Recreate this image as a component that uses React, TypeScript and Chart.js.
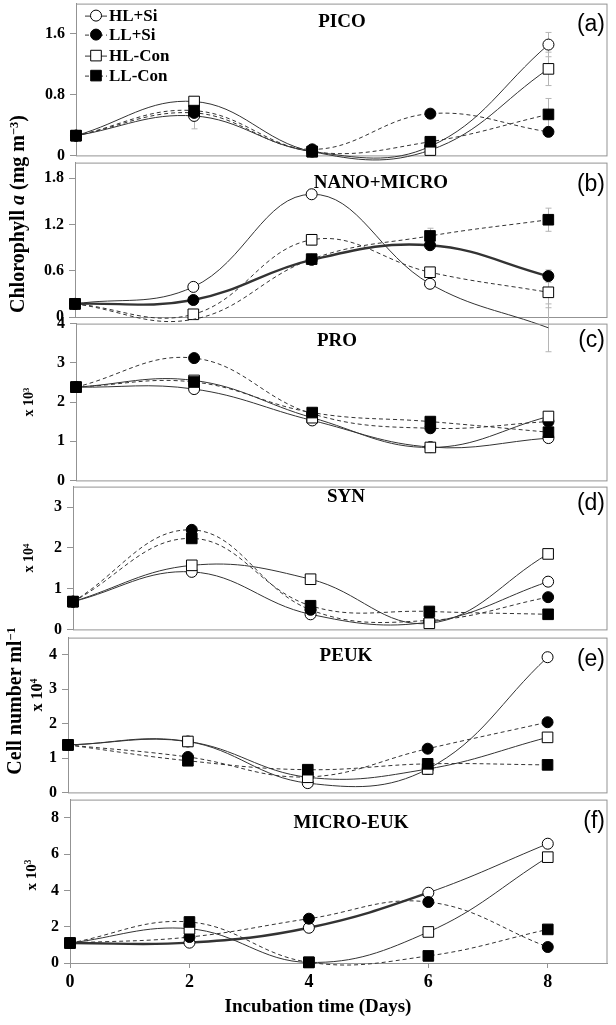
import React, { useEffect, useRef } from 'react';
import { Chart, registerables } from 'chart.js';

Chart.register(...registerables);

// ---------------- data ----------------
const DAYS = [0, 2, 4, 6, 8];
const SERIES_NAMES = ['HL+Si', 'LL+Si', 'HL-Con', 'LL-Con'];
const X_TICKS = [0, 2, 4, 6, 8];

// (a) PICO chlorophyll a (mg m-3)
const PICO_HL_SI = [0.26, 0.52, 0.05, 0.12, 1.46];
const PICO_LL_SI = [0.26, 0.56, 0.08, 0.55, 0.31];
const PICO_HL_CON = [0.26, 0.71, 0.05, 0.07, 1.14];
const PICO_LL_CON = [0.26, 0.59, 0.05, 0.18, 0.54];
const PICO_ERR_HL_SI = [0, 0.17, 0, 0, 0.16];
const PICO_ERR_LL_SI = [0, 0, 0, 0, 0.06];
const PICO_ERR_HL_CON = [0, 0, 0, 0, 0.22];
const PICO_ERR_LL_CON = [0, 0, 0, 0, 0.21];

// (b) NANO+MICRO chlorophyll a (mg m-3)
const NANO_HL_SI = [0.17, 0.39, 1.59, 0.43, -0.14];
const NANO_LL_SI = [0.17, 0.22, 0.74, 0.93, 0.53];
const NANO_HL_CON = [0.17, 0.035, 1.0, 0.58, 0.32];
const NANO_LL_CON = [0.17, -0.03, 0.75, 1.05, 1.26];
const NANO_ERR_HL_SI = [0, 0, 0.05, 0, 0.31];
const NANO_ERR_LL_SI = [0, 0, 0, 0, 0.08];
const NANO_ERR_HL_CON = [0, 0, 0.07, 0, 0.2];
const NANO_ERR_LL_CON = [0, 0, 0, 0.1, 0.15];

// (c) PRO cells ml-1 (x 10^3)
const PRO_HL_SI = [2.38, 2.33, 1.53, 0.85, 1.08];
const PRO_LL_SI = [2.38, 3.12, 1.7, 1.33, 1.5];
const PRO_HL_CON = [2.38, 2.55, 1.6, 0.84, 1.63];
const PRO_LL_CON = [2.38, 2.51, 1.73, 1.5, 1.23];

// (d) SYN cells ml-1 (x 10^4)
const SYN_HL_SI = [0.68, 1.41, 0.37, 0.18, 1.17];
const SYN_LL_SI = [0.68, 2.44, 0.48, 0.22, 0.79];
const SYN_HL_CON = [0.68, 1.57, 1.23, 0.15, 1.85];
const SYN_LL_CON = [0.68, 2.23, 0.58, 0.44, 0.37];

// (e) PEUK cells ml-1 (x 10^4)
const PEUK_HL_SI = [1.38, 1.48, 0.27, 0.68, 3.93];
const PEUK_LL_SI = [1.38, 1.03, 0.45, 1.27, 2.04];
const PEUK_HL_CON = [1.38, 1.48, 0.44, 0.68, 1.6];
const PEUK_LL_CON = [1.38, 0.92, 0.66, 0.83, 0.8];

// (f) MICRO-EUK cells ml-1 (x 10^3)
const MEUK_HL_SI = [1.1, 1.12, 1.94, 3.87, 6.57];
const MEUK_LL_SI = [1.1, 1.43, 2.44, 3.36, 0.88];
const MEUK_HL_CON = [1.1, 1.89, 0.03, 1.71, 5.83];
const MEUK_LL_CON = [1.1, 2.26, 0.04, 0.39, 1.85];

const NO_ERR = [0, 0, 0, 0, 0];

// ---------------- styles ----------------
const SERIF = '"Liberation Serif", "Times New Roman", serif';
const SANS = '"Liberation Sans", Arial, sans-serif';
const LINE_COLOR = '#333';
const BOX_COLOR = '#939393';
const ERR_COLOR = '#b5b5b5';
const W = 616;
const PAD_T = 14;

const MARKERS = [
  { style: 'circle', r: 5.5, fill: '#fff' },
  { style: 'circle', r: 5.5, fill: '#000' },
  { style: 'rect', r: 7.5, fill: '#fff' },
  { style: 'rect', r: 7.5, fill: '#000' },
];
const DRAW_ORDER = [4, 3, 2, 1];

type LineStyle = { dash: boolean; width: number; thickUntil?: number; thickWidth?: number };
const S: LineStyle = { dash: false, width: 1 };
const D: LineStyle = { dash: true, width: 1 };

type PanelDef = {
  key: string;
  title: string;
  tag: string;
  values: number[][];
  errors: number[][];
  styles: LineStyle[];
  yMax: number;
  yStep: number;
  left: number;
  top: number;
  right: number;
  bottom: number;
  padB: number;
  titleX: number;
  titleY: number;
  tagY: number;
  legend?: boolean;
  xAxis?: boolean;
};

const PANELS: PanelDef[] = [
  {
    key: 'a', title: 'PICO', tag: '(a)',
    values: [PICO_HL_SI, PICO_LL_SI, PICO_HL_CON, PICO_LL_CON],
    errors: [PICO_ERR_HL_SI, PICO_ERR_LL_SI, PICO_ERR_HL_CON, PICO_ERR_LL_CON],
    styles: [S, D, S, D], yMax: 2.0, yStep: 0.8,
    left: 76, top: 3, right: 609, bottom: 156, padB: 14,
    titleX: 342, titleY: 20, tagY: 23, legend: true,
  },
  {
    key: 'b', title: 'NANO+MICRO', tag: '(b)',
    values: [NANO_HL_SI, NANO_LL_SI, NANO_HL_CON, NANO_LL_CON],
    errors: [NANO_ERR_HL_SI, NANO_ERR_LL_SI, NANO_ERR_HL_CON, NANO_ERR_LL_CON],
    styles: [S, { dash: false, width: 2.4 }, D, D], yMax: 2.0, yStep: 0.6,
    left: 75, top: 162, right: 611, bottom: 317, padB: 45,
    titleX: 381, titleY: 181, tagY: 183,
  },
  {
    key: 'c', title: 'PRO', tag: '(c)',
    values: [PRO_HL_SI, PRO_LL_SI, PRO_HL_CON, PRO_LL_CON],
    errors: [NO_ERR, NO_ERR, NO_ERR, NO_ERR],
    styles: [S, D, S, D], yMax: 4, yStep: 1,
    left: 76, top: 323, right: 611, bottom: 481, padB: 14,
    titleX: 337, titleY: 339, tagY: 339,
  },
  {
    key: 'd', title: 'SYN', tag: '(d)',
    values: [SYN_HL_SI, SYN_LL_SI, SYN_HL_CON, SYN_LL_CON],
    errors: [NO_ERR, NO_ERR, NO_ERR, NO_ERR],
    styles: [S, D, S, D], yMax: 3.5, yStep: 1,
    left: 73, top: 486, right: 611, bottom: 630, padB: 14,
    titleX: 346, titleY: 495, tagY: 502,
  },
  {
    key: 'e', title: 'PEUK', tag: '(e)',
    values: [PEUK_HL_SI, PEUK_LL_SI, PEUK_HL_CON, PEUK_LL_CON],
    errors: [NO_ERR, NO_ERR, NO_ERR, NO_ERR],
    styles: [S, D, S, D], yMax: 4.5, yStep: 1,
    left: 68, top: 637, right: 611, bottom: 793, padB: 14,
    titleX: 346, titleY: 654, tagY: 658,
  },
  {
    key: 'f', title: 'MICRO-EUK', tag: '(f)',
    values: [MEUK_HL_SI, MEUK_LL_SI, MEUK_HL_CON, MEUK_LL_CON],
    errors: [NO_ERR, NO_ERR, NO_ERR, NO_ERR],
    styles: [{ dash: false, width: 1, thickUntil: 3, thickWidth: 2.4 }, D, S, D], yMax: 9, yStep: 2,
    left: 70, top: 799, right: 612, bottom: 963, padB: 4,
    titleX: 351, titleY: 821, tagY: 820, xAxis: true,
  },
];

const X_AXIS_H = 36;

function drawMarker(ctx: CanvasRenderingContext2D, i: number, x: number, y: number) {
  const m = MARKERS[i];
  ctx.save();
  ctx.fillStyle = m.fill;
  ctx.strokeStyle = '#000';
  ctx.lineWidth = 1;
  ctx.setLineDash([]);
  ctx.beginPath();
  if (m.style === 'circle') {
    ctx.arc(x, y, m.r, 0, Math.PI * 2);
  } else {
    const h = m.r * Math.SQRT1_2;
    ctx.rect(x - h, y - h, 2 * h, 2 * h);
  }
  ctx.fill();
  ctx.stroke();
  ctx.restore();
}

function PanelChart({ p }: { p: PanelDef }) {
  const ref = useRef<HTMLCanvasElement>(null);
  const extra = p.xAxis ? X_AXIS_H : 0;
  const h = PAD_T + (p.bottom - p.top) + extra + p.padB;
  const canvasTop = p.top - PAD_T;

  useEffect(() => {
    if (!ref.current) return;

    const boxPlugin = {
      id: 'box' + p.key,
      beforeDatasetsDraw(chart: any) {
        const { ctx, chartArea: a } = chart;
        ctx.save();
        ctx.strokeStyle = BOX_COLOR;
        ctx.lineWidth = 1;
        ctx.strokeRect(a.left + 0.5, a.top + 0.5, a.right - a.left - 1, a.bottom - a.top);
        ctx.restore();
      },
    };

    const errPlugin = {
      id: 'err' + p.key,
      beforeDatasetsDraw(chart: any) {
        const { ctx } = chart;
        const xs = chart.scales.x;
        const ys = chart.scales.y;
        ctx.save();
        ctx.strokeStyle = ERR_COLOR;
        ctx.lineWidth = 1;
        p.errors.forEach((arr, i) => {
          arr.forEach((e, j) => {
            if (!e) return;
            const v = p.values[i][j];
            const x = Math.round(xs.getPixelForValue(DAYS[j])) + 0.5;
            const y1 = ys.getPixelForValue(v + e);
            const y2 = ys.getPixelForValue(v - e);
            ctx.beginPath();
            ctx.moveTo(x, y1);
            ctx.lineTo(x, y2);
            ctx.moveTo(x - 3, y1);
            ctx.lineTo(x + 3, y1);
            ctx.moveTo(x - 3, y2);
            ctx.lineTo(x + 3, y2);
            ctx.stroke();
          });
        });
        ctx.restore();
      },
    };

    const legendPlugin = {
      id: 'leg' + p.key,
      afterDatasetsDraw(chart: any) {
        if (!p.legend) return;
        const { ctx, chartArea: a } = chart;
        const rows = [12, 31, 52, 72];
        SERIES_NAMES.forEach((name, i) => {
          const y = a.top + rows[i];
          const x0 = a.left + 9;
          const x1 = a.left + 31;
          ctx.save();
          ctx.strokeStyle = LINE_COLOR;
          ctx.lineWidth = 1;
          ctx.setLineDash(p.styles[i].dash ? [4, 3] : []);
          ctx.beginPath();
          ctx.moveTo(x0, y + 0.5);
          ctx.lineTo(x1, y + 0.5);
          ctx.stroke();
          ctx.restore();
          drawMarker(ctx, i, (x0 + x1) / 2, y);
          ctx.save();
          ctx.fillStyle = '#000';
          ctx.font = `bold 17px ${SERIF}`;
          ctx.textAlign = 'left';
          ctx.textBaseline = 'middle';
          ctx.fillText(name, x1 + 2, y + 1);
          ctx.restore();
        });
      },
    };

    const datasets = SERIES_NAMES.map((name, i) => {
      const st = p.styles[i];
      const m = MARKERS[i];
      const ds: any = {
        label: name,
        data: DAYS.map((d, j) => ({ x: d, y: p.values[i][j] })),
        borderColor: LINE_COLOR,
        borderWidth: st.width,
        borderDash: st.dash ? [4, 3] : [],
        pointStyle: m.style,
        pointRadius: (c: any) => (c.raw && c.raw.y < 0 ? 0 : m.r),
        pointHoverRadius: (c: any) => (c.raw && c.raw.y < 0 ? 0 : m.r),
        pointBackgroundColor: m.fill,
        pointBorderColor: '#000',
        pointBorderWidth: 1,
        clip: false,
        order: DRAW_ORDER[i],
        tension: 0.4,
        fill: false,
      };
      if (st.thickUntil != null) {
        ds.segment = {
          borderWidth: (c: any) => (c.p1DataIndex <= (st.thickUntil as number) ? st.thickWidth : st.width),
        };
      }
      return ds;
    });

    const chart = new Chart(ref.current, {
      type: 'line',
      data: { datasets },
      plugins: [boxPlugin, errPlugin, legendPlugin],
      options: {
        animation: false,
        responsive: false,
        maintainAspectRatio: false,
        events: [],
        layout: { padding: { top: PAD_T, bottom: p.padB, left: 0, right: W - p.right } },
        plugins: { legend: { display: false }, tooltip: { enabled: false }, title: { display: false } },
        elements: { line: { capBezierPoints: false } },
        scales: {
          x: {
            type: 'linear',
            min: 0,
            max: 9,
            display: !!p.xAxis,
            afterBuildTicks: (s: any) => {
              s.ticks = X_TICKS.map((v) => ({ value: v }));
            },
            ticks: {
              stepSize: 2,
              includeBounds: false,
              color: '#000',
              padding: 4,
              font: { family: SERIF, weight: 'bold', size: 18 },
            },
            grid: { drawOnChartArea: false, color: BOX_COLOR, tickLength: 5 },
            border: { color: BOX_COLOR },
            afterFit: (s: any) => {
              if (p.xAxis) s.height = X_AXIS_H;
            },
          },
          y: {
            type: 'linear',
            min: 0,
            max: p.yMax,
            ticks: {
              stepSize: p.yStep,
              includeBounds: false,
              color: '#000',
              padding: 5,
              font: { family: SERIF, weight: 'bold', size: 16 },
            },
            grid: { drawOnChartArea: false, color: BOX_COLOR, tickLength: 6 },
            border: { color: BOX_COLOR },
            afterFit: (s: any) => {
              s.width = p.left;
            },
          },
        },
      } as any,
    });
    return () => chart.destroy();
  }, []);

  return (
    <canvas
      ref={ref}
      width={W}
      height={h}
      style={{ position: 'absolute', left: 0, top: canvasTop, width: W, height: h }}
    />
  );
}

const sup: React.CSSProperties = { fontSize: '0.62em', position: 'relative', top: '-0.5em' };

function Txt({ x, y, size, children, rotate, family, weight, align }: any) {
  const tx = align === 'right' ? '-100%' : '-50%';
  return (
    <div
      style={{
        position: 'absolute',
        left: x,
        top: y,
        transform: `translate(${tx}, -50%)${rotate ? ' rotate(-90deg)' : ''}`,
        transformOrigin: rotate ? '50% 50%' : undefined,
        fontFamily: family || SERIF,
        fontWeight: weight || 'bold',
        fontSize: size,
        lineHeight: 1,
        whiteSpace: 'nowrap',
        color: '#000',
      }}
    >
      {children}
    </div>
  );
}

export default function App() {
  return (
    <div
      style={{
        position: 'absolute',
        left: 0,
        top: 0,
        width: 616,
        height: 1025,
        background: '#fff',
        overflow: 'hidden',
      }}
    >
      {PANELS.map((p) => (
        <PanelChart key={p.key} p={p} />
      ))}
      {PANELS.map((p) => (
        <React.Fragment key={'t' + p.key}>
          <Txt x={p.titleX} y={p.titleY} size={19}>{p.title}</Txt>
          <Txt x={605} y={p.tagY} size={23} family={SANS} weight="normal" align="right">{p.tag}</Txt>
        </React.Fragment>
      ))}
      <Txt x={17} y={214} size={20} rotate>
        Chlorophyll <i>a</i> (mg m<span style={sup}>−3</span>)
      </Txt>
      <Txt x={29} y={402} size={14} rotate>
        x 10<span style={sup}>3</span>
      </Txt>
      <Txt x={29} y={558} size={14} rotate>
        x 10<span style={sup}>4</span>
      </Txt>
      <Txt x={14} y={701} size={20} rotate>
        Cell number ml<span style={sup}>−1</span>
      </Txt>
      <Txt x={37} y={695} size={16} rotate>
        x 10<span style={sup}>4</span>
      </Txt>
      <Txt x={31} y={875} size={15} rotate>
        x 10<span style={sup}>3</span>
      </Txt>
      <Txt x={318} y={1005} size={19}>Incubation time (Days)</Txt>
    </div>
  );
}
